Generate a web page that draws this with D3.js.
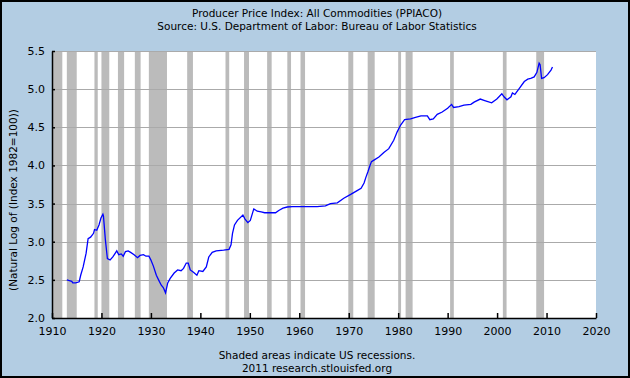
<!DOCTYPE html>
<html>
<head>
<meta charset="utf-8">
<script src="https://cdn.jsdelivr.net/npm/d3@7"></script>
<style>
  body { margin: 0; padding: 0; }
  text { font-family: "DejaVu Sans", Verdana, sans-serif; fill: #000; }
</style>
</head>
<body>
<div class="chart"></div>
<script>
var svgWidth = 630;
var svgHeight = 378;

var margin = {
  top: 51,
  right: 34,
  bottom: 60,
  left: 52
};

var width = svgWidth - margin.left - margin.right;
var height = svgHeight - margin.top - margin.bottom;

// Data: decimal year and natural log of the index
var ppiYears = [1913.0, 1913.5, 1914.0, 1914.2, 1914.8, 1915.5, 1915.8, 1916.3, 1916.9, 1917.3,
  1917.8, 1918.4, 1918.6, 1919.05, 1919.5, 1919.9, 1920.3, 1920.4, 1920.8, 1921.2,
  1921.75, 1922.3, 1922.8, 1923.1, 1923.5, 1924.0, 1924.4, 1924.85, 1925.4, 1925.9,
  1926.6, 1927.3, 1927.8, 1928.5, 1929.0, 1929.6, 1930.0, 1930.5, 1931.1, 1931.7,
  1932.1, 1932.5, 1932.96, 1933.4, 1933.9, 1934.7, 1935.4, 1936.1, 1936.6, 1937.15,
  1937.55, 1937.96, 1938.6, 1939.3, 1939.7, 1940.5, 1941.2, 1941.7, 1942.4, 1943.2,
  1944.7, 1945.8, 1946.2, 1946.5, 1946.9, 1947.5, 1948.6, 1949.0, 1949.6, 1950.1,
  1950.8, 1951.5, 1952.3, 1953.0, 1954.2, 1955.2, 1955.85, 1956.7, 1957.55, 1958.6,
  1960.2, 1961.6, 1963.6, 1965.3, 1966.3, 1967.7, 1969.0, 1970.4, 1971.7, 1972.5,
  1973.1, 1973.5, 1973.9, 1974.3, 1974.6, 1975.1, 1976.1, 1977.1, 1978.1, 1979.1,
  1979.8, 1980.5, 1981.3, 1982.5, 1983.5, 1984.6, 1985.9, 1986.4, 1987.1, 1987.9,
  1988.9, 1990.0, 1990.8, 1991.2, 1992.3, 1993.3, 1994.7, 1995.35, 1996.6, 1997.5,
  1998.9, 1999.95, 2000.96, 2001.4, 2002.0, 2002.8, 2003.1, 2003.6, 2004.5, 2005.5,
  2006.2, 2006.8, 2007.5, 2008.05, 2008.5, 2008.7, 2009.0, 2009.5, 2010.2, 2010.9,
  2011.2];
var ppiValues = [2.50, 2.49, 2.48, 2.46, 2.46, 2.475, 2.56, 2.67, 2.85, 3.04,
  3.06, 3.11, 3.16, 3.15, 3.22, 3.31, 3.36, 3.34, 3.02, 2.78,
  2.76, 2.80, 2.85, 2.88, 2.83, 2.84, 2.81, 2.87, 2.88, 2.86,
  2.83, 2.79, 2.82, 2.83, 2.81, 2.81, 2.76, 2.68, 2.56, 2.48,
  2.43, 2.40, 2.33, 2.46, 2.52, 2.59, 2.63, 2.62, 2.65, 2.72,
  2.72, 2.63, 2.60, 2.56, 2.62, 2.61, 2.67, 2.80, 2.86, 2.88,
  2.89, 2.90, 2.96, 3.11, 3.22, 3.28, 3.35, 3.30, 3.25, 3.28,
  3.43, 3.40, 3.39, 3.38, 3.38, 3.38, 3.41, 3.44, 3.455, 3.46,
  3.46, 3.46, 3.46, 3.47, 3.50, 3.51, 3.57, 3.62, 3.67, 3.70,
  3.77, 3.85, 3.92, 4.00, 4.05, 4.07, 4.11, 4.17, 4.22, 4.33,
  4.44, 4.53, 4.60, 4.61, 4.63, 4.65, 4.65, 4.60, 4.61, 4.67,
  4.70, 4.75, 4.80, 4.76, 4.77, 4.79, 4.80, 4.83, 4.87, 4.85,
  4.82, 4.87, 4.94, 4.90, 4.86, 4.90, 4.95, 4.93, 5.01, 5.10,
  5.13, 5.14, 5.16, 5.22, 5.34, 5.32, 5.14, 5.15, 5.19, 5.25,
  5.29];

// US recessions (start month, end month)
var recessionStarts = ["1910-01", "1913-01", "1918-08", "1920-01", "1923-05", "1926-10", "1929-08",
  "1937-05", "1945-02", "1948-11", "1953-07", "1957-08", "1960-04", "1969-12", "1973-11",
  "1980-01", "1981-07", "1990-07", "2001-03", "2007-12"];
var recessionEnds = ["1912-01", "1914-12", "1919-03", "1921-07", "1924-07", "1927-11", "1933-03",
  "1938-06", "1945-10", "1949-10", "1954-05", "1958-04", "1961-02", "1970-11", "1975-03",
  "1980-07", "1982-11", "1991-03", "2001-11", "2009-06"];

var xTicks = [1910, 1920, 1930, 1940, 1950, 1960, 1970, 1980, 1990, 2000, 2010, 2020];
var yTicks = [2.0, 2.5, 3.0, 3.5, 4.0, 4.5, 5.0, 5.5];

var titleLines = ["Producer Price Index: All Commodities (PPIACO)",
  "Source: U.S. Department of Labor: Bureau of Labor Statistics"];
var footLines = ["Shaded areas indicate US recessions.", "2011 research.stlouisfed.org"];
var yLabel = "(Natural Log of (Index 1982=100))";

function monthToYear(s) {
  var p = s.split("-");
  return +p[0] + (+p[1] - 1) / 12;
}

var svg = d3.select(".chart")
  .append("svg")
  .attr("width", svgWidth)
  .attr("height", svgHeight);

// background + border
svg.append("rect")
  .attr("x", 1).attr("y", 1)
  .attr("width", svgWidth - 2).attr("height", svgHeight - 2)
  .attr("fill", "#b3cde3")
  .attr("stroke", "#000")
  .attr("stroke-width", 2);

var chartGroup = svg.append("g")
  .attr("transform", `translate(${margin.left}, ${margin.top})`);

var xScale = d3.scaleLinear().domain([1910, 2020]).range([0, width]);
var yScale = d3.scaleLinear().domain([2, 5.5]).range([height, 0]);

// plot area
chartGroup.append("rect")
  .attr("width", width)
  .attr("height", height)
  .attr("fill", "#fff");

// recession bars
chartGroup.selectAll(".recession")
  .data(recessionStarts)
  .enter()
  .append("rect")
  .attr("class", "recession")
  .attr("x", d => xScale(monthToYear(d)))
  .attr("y", 0)
  .attr("width", (d, i) => xScale(monthToYear(recessionEnds[i]) + 1 / 12) - xScale(monthToYear(d)))
  .attr("height", height)
  .attr("fill", "#bbbbbb");

// gridlines
chartGroup.selectAll(".grid")
  .data(yTicks.slice(1))
  .enter()
  .append("line")
  .attr("class", "grid")
  .attr("x1", 0)
  .attr("x2", width)
  .attr("y1", d => Math.round(yScale(d)) + 0.5)
  .attr("y2", d => Math.round(yScale(d)) + 0.5)
  .attr("stroke", "#aaaaaa")
  .attr("stroke-width", 1);

// line
var points = ppiYears.map((d, i) => [d, ppiValues[i]]);
var line = d3.line()
  .x(d => xScale(d[0]))
  .y(d => yScale(d[1]));

chartGroup.append("path")
  .datum(points)
  .attr("d", line)
  .attr("fill", "none")
  .attr("stroke", "#0000ff")
  .attr("stroke-width", 1.3);

// axes
var bottomAxis = d3.axisBottom(xScale)
  .tickValues(xTicks)
  .tickFormat(d3.format("d"))
  .tickSizeInner(-5)
  .tickSizeOuter(0)
  .tickPadding(9);

var leftAxis = d3.axisLeft(yScale)
  .tickValues(yTicks)
  .tickFormat(d3.format(".1f"))
  .tickSizeInner(-3)
  .tickSizeOuter(0)
  .tickPadding(7);

var xAxisG = chartGroup.append("g")
  .attr("transform", `translate(0, ${height})`)
  .call(bottomAxis);

var yAxisG = chartGroup.append("g")
  .call(leftAxis);

[xAxisG, yAxisG].forEach(function(g) {
  g.select(".domain").attr("stroke", "#000").attr("stroke-width", 1.5);
  g.selectAll(".tick line").attr("stroke", "#000").attr("stroke-width", 1.5);
  g.selectAll("text").style("font-size", "11px").attr("fill", "#000")
    .style("font-family", "'DejaVu Sans', Verdana, sans-serif");
});

// titles
svg.selectAll(".title")
  .data(titleLines)
  .enter()
  .append("text")
  .attr("class", "title")
  .attr("x", 317)
  .attr("y", (d, i) => 17 + i * 13)
  .attr("text-anchor", "middle")
  .style("font-size", "10.5px")
  .text(d => d);

svg.selectAll(".foot")
  .data(footLines)
  .enter()
  .append("text")
  .attr("class", "foot")
  .attr("x", 317)
  .attr("y", (d, i) => 359 + i * 13)
  .attr("text-anchor", "middle")
  .style("font-size", "10.5px")
  .text(d => d);

// y axis label
svg.append("text")
  .attr("transform", "translate(17, 200) rotate(-90)")
  .attr("text-anchor", "middle")
  .style("font-size", "10.5px")
  .text(yLabel);
</script>
</body>
</html>
